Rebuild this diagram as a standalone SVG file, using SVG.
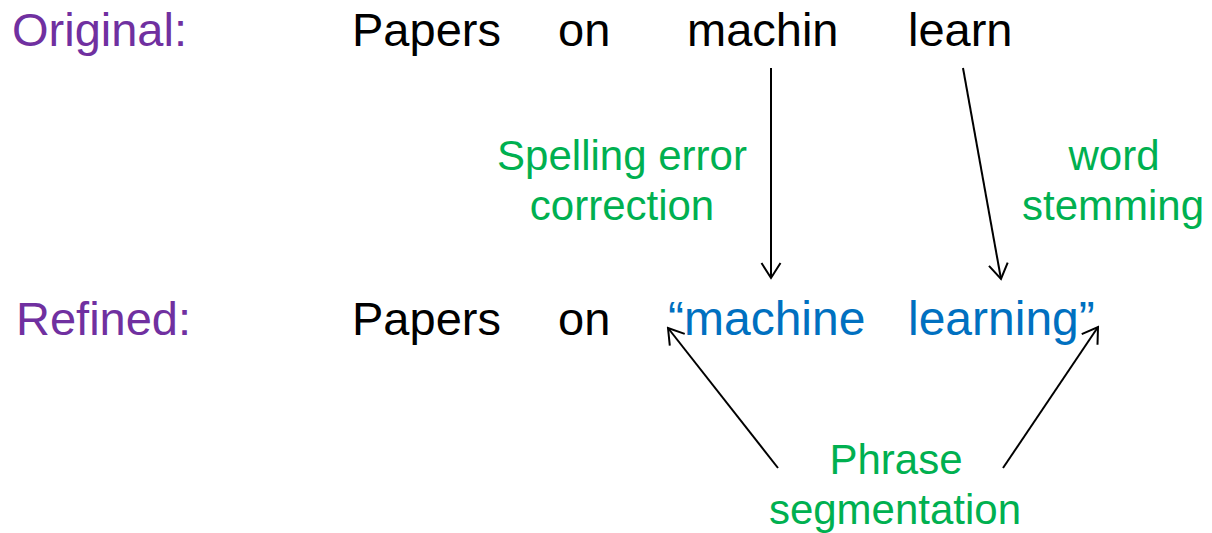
<svg xmlns="http://www.w3.org/2000/svg" width="1212" height="533" viewBox="0 0 1212 533">
<defs>
<marker id="ah" viewBox="-18 -11 20 22" markerWidth="20" markerHeight="22" refX="0" refY="0" orient="auto" markerUnits="userSpaceOnUse">
<path d="M-15,-9.5 L0,0 L-15,9.5" fill="none" stroke="#000" stroke-width="2"/>
</marker>
</defs>
<style>
text{font-family:"Liberation Sans",Arial,sans-serif}
.lab{fill:#7030A0;font-size:47px}
.blk{fill:#000;font-size:47px}
.blu{fill:#0070C0;font-size:48px}
.grn{fill:#00B050;font-size:42px;text-anchor:middle}
.con{stroke:#000;stroke-width:2;fill:none;marker-end:url(#ah)}
</style>
<rect width="1212" height="533" fill="#fff"/>
<g id="row-original">
<text class="lab" x="12" y="46">Original:</text>
<text class="blk" x="352" y="46">Papers</text>
<text class="blk" x="558" y="46">on</text>
<text class="blk" x="687" y="46">machin</text>
<text class="blk" x="908" y="46">learn</text>
</g>
<g id="row-refined">
<text class="lab" x="16" y="335">Refined:</text>
<text class="blk" x="352" y="335">Papers</text>
<text class="blk" x="558" y="335">on</text>
<text class="blu" x="668" y="335">“machine</text>
<text class="blu" x="908" y="335">learning”</text>
</g>
<g id="label-spelling">
<text class="grn" x="622" y="170">Spelling error</text>
<text class="grn" x="622" y="220">correction</text>
</g>
<g id="label-stemming">
<text class="grn" x="1114" y="170">word</text>
<text class="grn" x="1113" y="220">stemming</text>
</g>
<g id="label-phrase">
<text class="grn" x="896" y="474">Phrase</text>
<text class="grn" x="895" y="524">segmentation</text>
</g>
<g id="connectors">
<line class="con" x1="771" y1="68" x2="771" y2="278"/>
<line class="con" x1="963" y1="68" x2="1001" y2="279"/>
<line class="con" x1="778" y1="468" x2="668" y2="328"/>
<line class="con" x1="1003" y1="468" x2="1098" y2="327"/>
</g>
</svg>
